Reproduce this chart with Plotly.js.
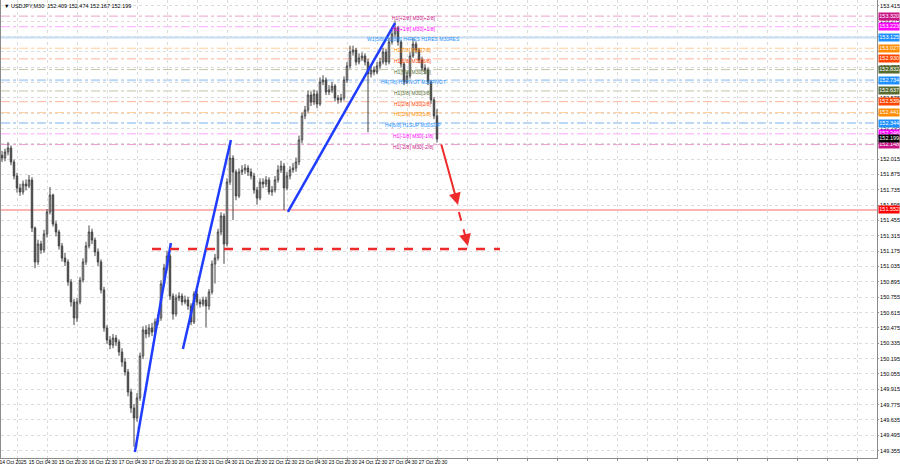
<!DOCTYPE html>
<html><head><meta charset="utf-8">
<script src="https://cdn.plot.ly/plotly-3.0.1.min.js"></script>
<style>html,body{margin:0;padding:0;background:#fff}#chart{width:900px;height:468px}</style>
</head><body><div id="chart"></div>
<script>
// ---- data (USDJPY M30, resampled bars) ----
const openP = [152.050,152.025,152.080,152.117,151.989,151.861,151.752,151.715,151.788,151.770,
151.825,151.387,151.077,151.241,151.186,151.332,151.533,151.688,151.423,151.350,
151.223,151.113,151.077,150.894,150.712,150.566,150.712,150.912,151.077,151.223,
151.350,151.277,151.168,151.077,150.821,150.474,150.365,150.319,150.383,150.347,
150.255,150.164,150.073,149.890,149.744,149.653,149.836,150.219,150.456,150.420,
150.474,150.438,150.529,150.566,150.876,151.022,151.131,150.766,150.602,150.748,
150.766,150.712,150.730,150.675,150.529,150.785,150.712,150.693,150.730,150.675,
150.803,151.058,151.113,151.350,151.496,151.241,151.806,152.025,151.898,151.679,
151.898,151.916,151.934,151.898,151.861,151.733,151.660,151.806,151.788,151.825,
151.715,151.733,151.825,151.916,151.952,151.752,151.861,151.916,151.934,151.989,
152.190,152.409,152.463,152.600,152.536,152.609,152.518,152.719,152.737,152.628,
152.646,152.682,152.573,152.555,152.573,152.737,152.865,152.993,153.011,152.901,
152.938,152.956,152.901,152.792,152.828,152.810,152.865,152.901,152.993,152.901,
153.084,153.157,153.212,153.084,152.883,152.719,152.774,152.956,153.066,153.011,
152.920,152.847,152.828,152.719,152.555,152.409];
const highP = [152.090,152.110,152.170,152.140,152.010,151.890,151.790,151.820,151.830,151.870,
151.850,151.400,151.280,151.270,151.370,151.560,151.760,151.700,151.450,151.370,
151.250,151.160,151.100,150.920,150.740,150.750,150.940,151.110,151.260,151.410,
151.380,151.300,151.200,151.100,150.850,150.500,150.400,150.420,150.410,150.370,
150.290,150.200,150.100,149.920,149.780,149.880,150.250,150.490,150.500,150.510,
150.520,150.560,150.600,150.910,151.060,151.180,151.150,150.790,150.780,150.800,
150.790,150.770,150.760,150.700,150.810,150.820,150.740,150.760,150.760,150.830,
151.090,151.150,151.380,151.530,151.520,151.840,152.170,152.050,151.920,151.930,
151.960,151.970,151.960,151.930,151.890,151.760,151.840,151.840,151.860,151.850,
151.770,151.860,151.960,152.000,151.980,151.900,151.950,151.980,152.030,152.230,
152.440,152.500,152.640,152.630,152.650,152.640,152.760,152.780,152.760,152.690,
152.720,152.700,152.600,152.610,152.770,152.900,153.050,153.050,153.030,152.980,
152.990,152.980,152.930,152.860,152.860,152.900,152.940,153.030,153.020,153.120,
153.190,153.280,153.230,153.100,152.900,152.810,152.990,153.120,153.090,153.030,
152.950,152.880,152.850,152.740,152.580,152.474];
const lowP = [151.990,151.995,152.050,151.960,151.830,151.710,151.680,151.690,151.730,151.750,
151.350,151.020,151.050,151.150,151.160,151.300,151.510,151.400,151.310,151.190,
151.080,151.040,150.860,150.670,150.500,150.530,150.690,150.890,151.050,151.200,
151.240,151.130,151.040,150.790,150.440,150.330,150.280,150.290,150.310,150.220,
150.120,150.040,149.850,149.700,149.390,149.620,149.810,150.190,150.380,150.390,
150.400,150.410,150.500,150.540,150.850,151.000,150.730,150.550,150.580,150.720,
150.680,150.690,150.640,150.500,150.510,150.680,150.660,150.670,150.480,150.640,
150.780,150.880,151.090,151.320,151.060,151.220,151.780,151.460,151.640,151.660,
151.870,151.880,151.860,151.830,151.700,151.600,151.640,151.750,151.760,151.690,
151.680,151.710,151.800,151.890,151.550,151.730,151.830,151.890,151.900,151.960,
152.160,152.380,152.440,152.500,152.510,152.480,152.500,152.690,152.600,152.600,
152.620,152.540,152.520,152.530,152.550,152.710,152.840,152.960,152.870,152.880,
152.910,152.870,152.260,152.760,152.780,152.790,152.840,152.880,152.870,152.880,
153.060,153.130,153.050,152.850,152.690,152.700,152.750,152.940,152.980,152.890,
152.820,152.790,152.690,152.520,152.380,152.167];
const closeP = [152.025,152.080,152.117,151.989,151.861,151.752,151.715,151.788,151.770,151.825,
151.387,151.077,151.241,151.186,151.332,151.533,151.688,151.423,151.350,151.223,
151.113,151.077,150.894,150.712,150.566,150.712,150.912,151.077,151.223,151.350,
151.277,151.168,151.077,150.821,150.474,150.365,150.319,150.383,150.347,150.255,
150.164,150.073,149.890,149.744,149.653,149.836,150.219,150.456,150.420,150.474,
150.438,150.529,150.566,150.876,151.022,151.131,150.766,150.602,150.748,150.766,
150.712,150.730,150.675,150.529,150.785,150.712,150.693,150.730,150.675,150.803,
151.058,151.113,151.350,151.496,151.241,151.806,152.025,151.898,151.679,151.898,
151.916,151.934,151.898,151.861,151.733,151.660,151.806,151.788,151.825,151.715,
151.733,151.825,151.916,151.952,151.752,151.861,151.916,151.934,151.989,152.190,
152.409,152.463,152.600,152.536,152.609,152.518,152.719,152.737,152.628,152.646,
152.682,152.573,152.555,152.573,152.737,152.865,152.993,153.011,152.901,152.938,
152.956,152.901,152.792,152.828,152.810,152.865,152.901,152.993,152.901,153.084,
153.157,153.212,153.084,152.883,152.719,152.774,152.956,153.066,153.011,152.920,
152.847,152.828,152.719,152.555,152.409,152.199];

const dateLabels = ["14 Oct 2025","15 Oct 04:30","15 Oct 20:30","16 Oct 12:30","17 Oct 04:30","17 Oct 20:30",
"20 Oct 12:30","21 Oct 04:30","21 Oct 20:30","22 Oct 12:30","23 Oct 04:30","23 Oct 20:30","24 Oct 12:30",
"27 Oct 04:30","27 Oct 20:30"];

// price scale labels (those hidden behind level boxes in the reference are left blank)
const priceTicks = [149.355,149.495,149.635,149.775,149.915,150.055,150.195,150.335,150.475,150.615,
150.755,150.895,151.035,151.175,151.315,151.455,151.595,151.735,151.875,152.015,
152.155,152.295,152.435,152.575,152.715,152.855,152.995,153.135,153.275,153.415];
const hiddenTicks = [152.155,152.435,152.715,152.995,153.135];

const levelPrices = [153.320,153.223,153.125,153.027,152.930,152.832,152.734,152.637,152.539,152.441,152.344,152.246,152.148];
const levelNames = ["H1[+2/8] M30[+2/8]","H1[+1/8] M30[+1/8]","W1[5/8] D1[8/8] H4RES H1RES M30RES",
"H1[7/8] M30[7/8]","H1[6/8] M30[6/8]","H1[5/8] M30[5/8]","H4[7/8] H1PIVOT M30PIVOT",
"H1[3/8] M30[3/8]","H1[2/8] M30[2/8]","H1[1/8] M30[1/8]","H4[6/8] H1SUP M30SUP",
"H1[-1/8] M30[-1/8]","H1[-2/8] M30[-2/8]"];

const currentPrice = 152.199;
const redLevel = 151.552;
const targetPrice = 151.195;
const targetFromBar = 50, targetToBar = 166;

const trendStartBar = [44.3, 60.3, 95.3];
const trendStartPrice = [149.343, 150.283, 151.533];
const trendEndBar = [56.3, 76.3, 131.0];
const trendEndPrice = [151.250, 152.190, 153.257];

const arrowBars = [146.3, 152.0, 152.3, 155.3];
const arrowPrices = [152.162, 151.597, 151.533, 151.222];

const headerText = "USDJPY,M30  152.409 152.474 152.167 152.199";

// ---- styles ----
const levelBox = ["#c71585","#ff00ff","#1e90ff","#ff8c00","#ff4500","#556b2f","#1e90ff","#556b2f","#ff4500","#ff8c00","#1e90ff","#ff00ff","#c71585"];
const levelLine = ["#eaa0cf","#ffa6ff","#c6def6","#ffcf9c","#ffb49a","#bfc8a8","#bcd8f4","#bfc8a8","#ffb49a","#ffcf9c","#bcd8f4","#ffa6ff","#eaa0cf"];
const levelDash = ["dashdot","dashdot","solid","dashdot","dashdot","dashdot","dashdot","dashdot","dashdot","dashdot","dashdot","dashdot","dashdot"];
const levelWidth = [1,1,2,1,1,1,2,1,1,1,2,1,1];
const FONT = "Liberation Sans, Arial, sans-serif";

const bars = closeP.map((_, i) => i);

const tickVals = [], tickText = [];
for (let k = 0; k < 29; k++) { tickVals.push(5 + 10 * k); tickText.push(k < dateLabels.length ? dateLabels[k] : ""); }
const yTickText = priceTicks.map(v => hiddenTicks.includes(v) ? "" : v.toFixed(3));

const shapes = [], annotations = [];
function priceBox(p, color) {
  annotations.push({x:1, xref:"paper", y:p, yref:"y", text:p.toFixed(3), showarrow:false, xanchor:"left",
    xshift:1, yanchor:"middle", bgcolor:color, borderpad:0.3, font:{family:FONT, size:5.5, color:"#ffffff"}});
}
levelPrices.forEach((p, i) => {
  shapes.push({type:"line", xref:"paper", x0:0, x1:1, yref:"y", y0:p, y1:p, layer:"below",
    line:{color:levelLine[i], width:levelWidth[i], dash:levelDash[i]}});
  annotations.push({x:137, y:p, xref:"x", yref:"y", text:levelNames[i], showarrow:false,
    xanchor:"center", yanchor:"middle", yshift:-2, font:{family:FONT, size:5, color:levelBox[i]}});
  priceBox(p, levelBox[i]);
});
shapes.push({type:"line", xref:"paper", x0:0, x1:1, yref:"y", y0:redLevel, y1:redLevel, layer:"below",
  line:{color:"#ffb4b4", width:2}});
priceBox(redLevel, "#ff0000");
priceBox(currentPrice, "#000000");
for (let i = 0; i < trendStartBar.length; i++) {
  shapes.push({type:"line", xref:"x", yref:"y", x0:trendStartBar[i], y0:trendStartPrice[i], x1:trendEndBar[i], y1:trendEndPrice[i],
    line:{color:"#1f3cff", width:2.5}, layer:"above"});
}
shapes.push({type:"line", xref:"x", yref:"y", x0:targetFromBar, x1:targetToBar, y0:targetPrice, y1:targetPrice,
  line:{color:"#ee2a2a", width:2.5, dash:"dash"}, layer:"above"});
annotations.push({x:arrowBars[1], y:arrowPrices[1], ax:arrowBars[0], ay:arrowPrices[0], xref:"x", yref:"y", axref:"x", ayref:"y",
  text:"", showarrow:true, arrowhead:2, arrowsize:1.2, arrowwidth:2, arrowcolor:"#ee2a2a"});
shapes.push({type:"line", xref:"x", yref:"y", x0:arrowBars[2], y0:arrowPrices[2], x1:arrowBars[3], y1:arrowPrices[3],
  line:{color:"#ee2a2a", width:2, dash:"dash"}, layer:"above"});
annotations.push({x:arrowBars[3], y:arrowPrices[3], ax:-1.5, ay:-6, xref:"x", yref:"y",
  text:"", showarrow:true, arrowhead:2, arrowsize:1.2, arrowwidth:2, arrowcolor:"#ee2a2a"});
annotations.push({xref:"paper", yref:"paper", x:0, y:1, xanchor:"left", yanchor:"top", xshift:1, yshift:-1,
  text:"\u25BC " + headerText, showarrow:false, font:{family:FONT, size:5.5, color:"#000"}});

const trace = {type:"candlestick", x:bars, open:openP, high:highP, low:lowP, close:closeP,
  increasing:{line:{color:"#454545", width:1}, fillcolor:"#ffffff"},
  decreasing:{line:{color:"#454545", width:1}, fillcolor:"#454545"},
  whiskerwidth:0, hoverinfo:"skip", showlegend:false};

const layout = {
  width:900, height:468, margin:{l:1, r:23, t:0, b:10},
  paper_bgcolor:"#ffffff", plot_bgcolor:"#ffffff", showlegend:false,
  font:{family:FONT, size:5.5, color:"#000"},
  xaxis:{range:[-0.333, 291.667], tickmode:"array", tickvals:tickVals, ticktext:tickText, tickangle:0,
    showgrid:true, gridcolor:"#dcdcdc", griddash:"dot", gridwidth:1, zeroline:false,
    showline:true, linecolor:"#8c8c8c", ticks:"outside", ticklen:2, tickcolor:"#8c8c8c",
    ticklabelshift:-4, ticklabelstandoff:-3, ticklabeloverflow:"allow", tickfont:{family:FONT, size:5, color:"#000"},
    rangeslider:{visible:false}, fixedrange:true},
  yaxis:{range:[149.288, 153.467], side:"right", tickmode:"array", tickvals:priceTicks, ticktext:yTickText,
    showgrid:true, gridcolor:"#dcdcdc", griddash:"dot", gridwidth:1, zeroline:false,
    showline:true, mirror:true, linecolor:"#8c8c8c", ticks:"outside", ticklen:1, tickcolor:"#8c8c8c",
    tickfont:{family:FONT, size:5.5, color:"#000"}, fixedrange:true},
  shapes:shapes, annotations:annotations
};
Plotly.newPlot("chart", [trace], layout, {staticPlot:true, displayModeBar:false});
</script></body></html>
